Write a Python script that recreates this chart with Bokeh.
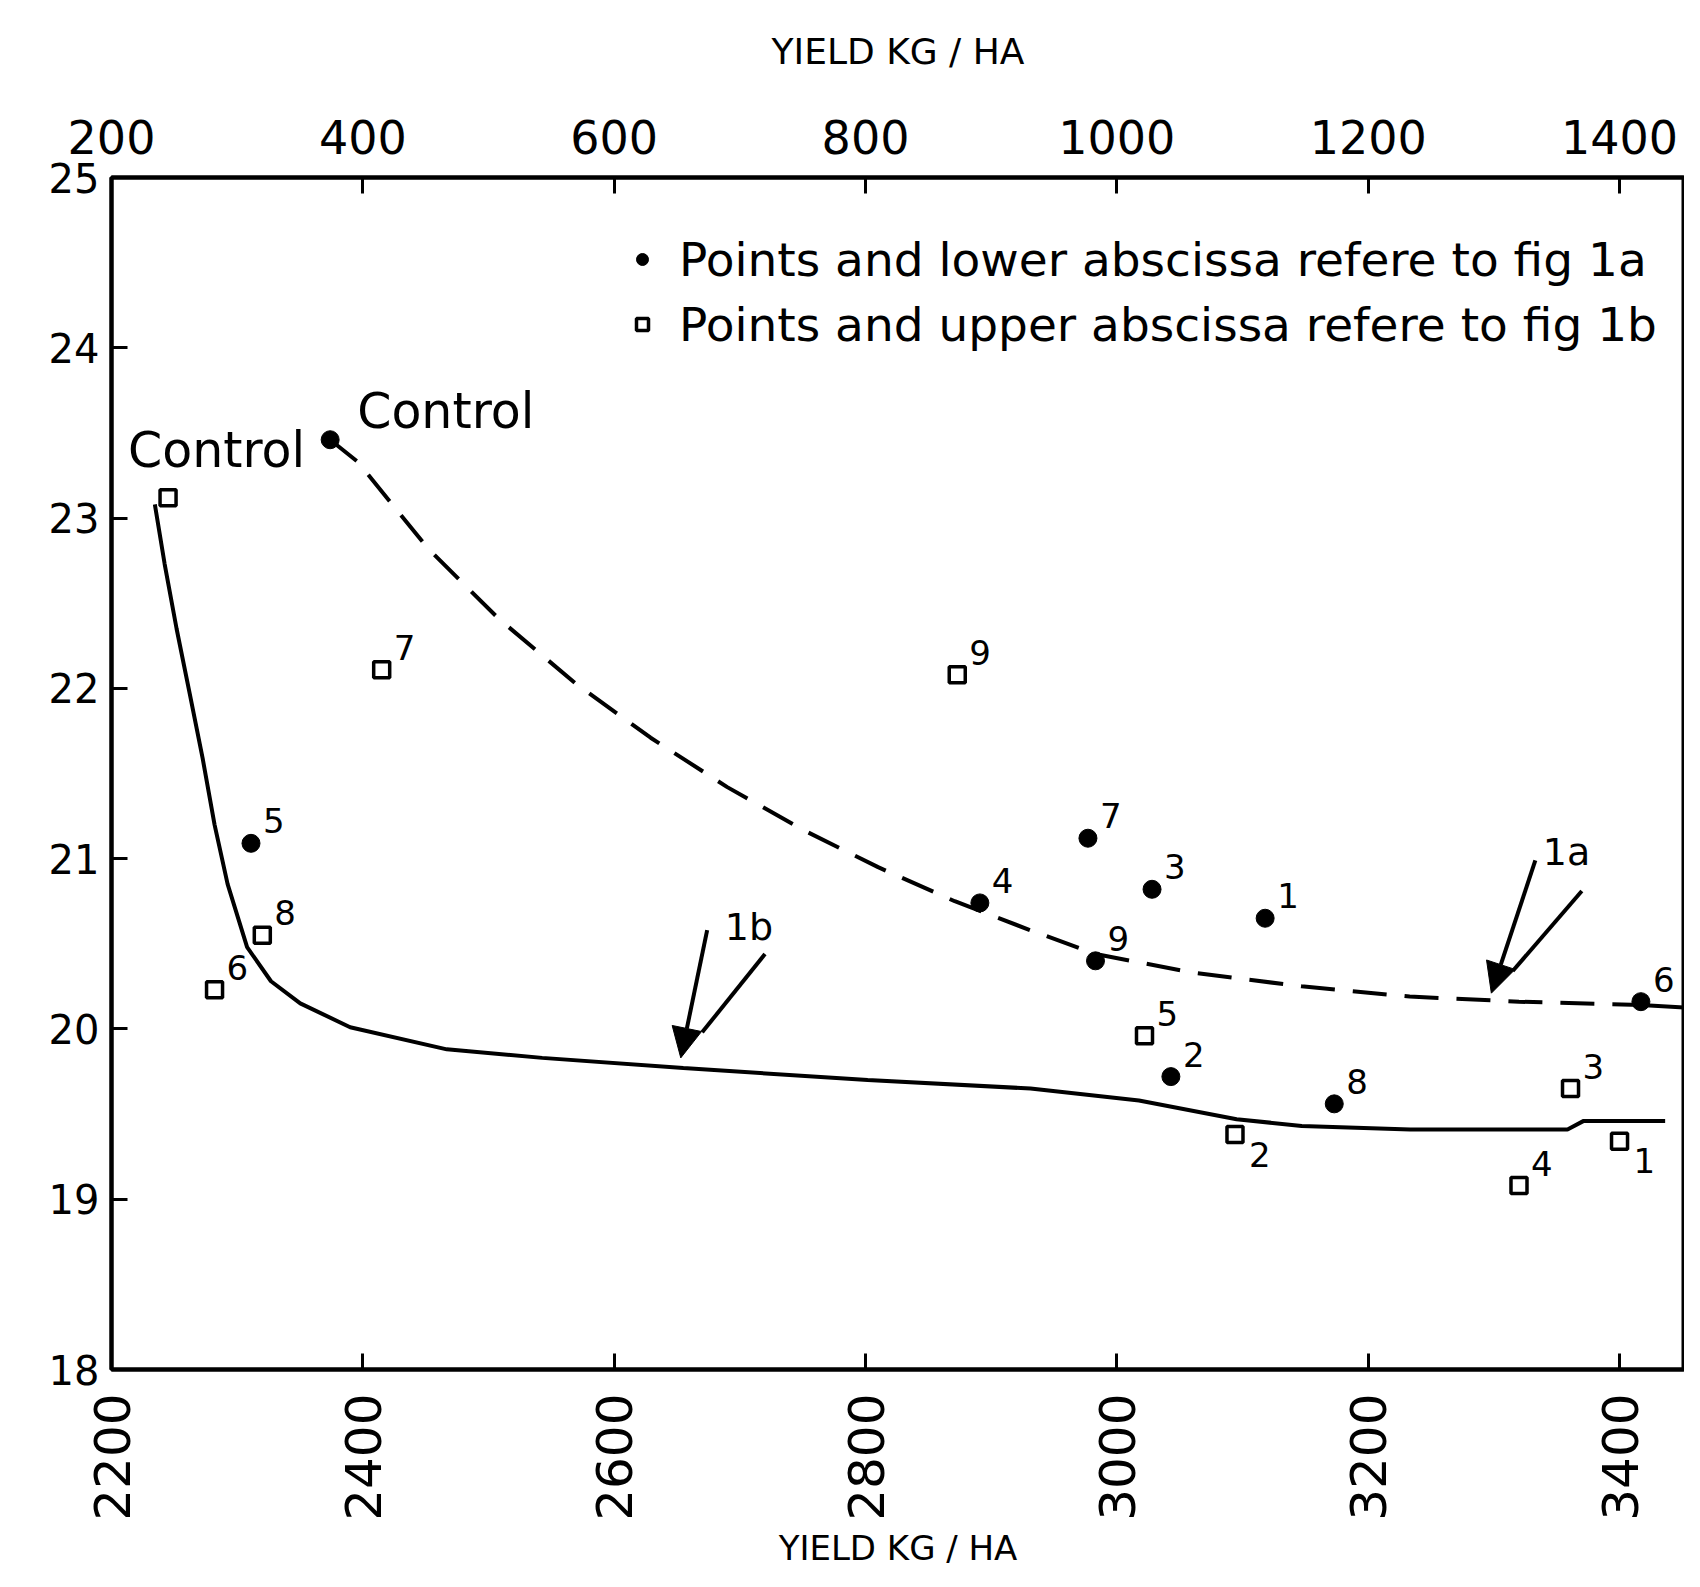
import math
from bokeh.plotting import figure
from bokeh.models import (Range1d, LinearAxis, FixedTicker, Legend, LegendItem,
                          Arrow, NormalHead)
from bokeh.embed import file_html
from bokeh.resources import INLINE
from bokeh.core.properties import value

# ---------------- data ----------------
lower_ticks = [2200, 2400, 2600, 2800, 3000, 3200, 3400]
upper_ticks = [200, 400, 600, 800, 1000, 1200, 1400]
y_ticks = [18, 19, 20, 21, 22, 23, 24, 25]
axis_title = "YIELD KG / HA"

# fig 1a points (lower abscissa)
a_labels = ["1", "2", "3", "4", "5", "6", "7", "8", "9"]
a_yield = [3118, 3043, 3028, 2891, 2311, 3417, 2977, 3173, 2983]
a_value = [20.65, 19.72, 20.82, 20.74, 21.09, 20.16, 21.12, 19.56, 20.40]
a_control_yield = [2374]
a_control_value = [23.46]

# fig 1b points (upper abscissa)
b_labels = ["1", "2", "3", "4", "5", "6", "7", "8", "9"]
b_yield = [1400, 1094, 1361, 1320, 1022, 282, 415, 320, 873]
b_value = [19.34, 19.38, 19.65, 19.08, 19.96, 20.23, 22.11, 20.55, 22.08]
b_control_yield = [245]
b_control_value = [23.12]
control_label = "Control"

# curve 1a (dashed, lower abscissa)
curve_a_x = [2374, 2396, 2452, 2508, 2569, 2629, 2690, 2750, 2810, 2871, 2931,
             2983, 3061, 3147, 3233, 3320, 3417]
curve_a_y = [23.46, 23.33, 22.82, 22.41, 22.03, 21.71, 21.42, 21.17, 20.95, 20.75,
             20.58, 20.44, 20.33, 20.25, 20.19, 20.16, 20.14]
curve_a_tail_x = [3417, 3465]
curve_a_tail_y = [20.14, 20.12]

# curve 1b (solid, upper abscissa)
curve_b_x = [234.5, 242.3, 251.8, 262.2, 272.5, 282.0, 292.4, 307.9, 326.9, 350.2,
             389.9, 466.8, 542.7, 655.0, 801.7, 931.3, 1017.6, 1095.3, 1147.1,
             1233.4, 1358.6, 1371.5, 1436.3]
curve_b_y = [23.08, 22.73, 22.35, 21.97, 21.59, 21.20, 20.85, 20.48, 20.28, 20.15,
             20.01, 19.88, 19.83, 19.77, 19.70, 19.65, 19.58, 19.47, 19.43,
             19.41, 19.41, 19.46, 19.46]

legend_labels = ["Points and lower abscissa refere to fig 1a",
                 "Points and upper abscissa refere to fig 1b"]

# curve annotations (lower abscissa)
arrow_names = ["1b", "1a"]
arrow_tip_x = [2653, 3298]
arrow_tip_y = [19.83, 20.21]
arrow_start_x = [2674, 3333]
arrow_start_y = [20.58, 20.99]
arrow_side_start_x = [2720, 3370]
arrow_side_start_y = [20.44, 20.81]
arrow_side_end_x = [2670, 3315]
arrow_side_end_y = [19.98, 20.34]
arrow_label_x = [2688, 3339]
arrow_label_y = [20.60, 21.04]

# ---------------- style ----------------
FONT = "DejaVu Sans"
# label placement: superscript (upper right) or subscript (lower right)
a_label_place = ["sup"] * 9
b_label_place = ["sub", "sub", "sup", "sup", "sup", "sup", "sup", "sup", "sup"]

p = figure(width=1684, height=1571,
           x_range=Range1d(2200, 3451.7), y_range=Range1d(18, 25),
           output_backend="svg", toolbar_location=None,
           min_border_left=111, min_border_right=0,
           min_border_top=177, min_border_bottom=202)
p.extra_x_ranges = {"upper": Range1d(200, 1451.7)}
p.grid.visible = False
p.outline_line_color = "black"
p.outline_line_width = 4
p.background_fill_color = "white"
p.border_fill_color = "white"


def style_axis(ax, size):
    ax.axis_line_width = 4
    ax.axis_line_color = "black"
    ax.major_tick_in = 16
    ax.major_tick_out = 0
    ax.major_tick_line_width = 3
    ax.minor_tick_line_color = None
    ax.major_label_text_font = FONT
    ax.major_label_text_font_size = size
    ax.major_label_text_color = "black"
    ax.axis_label_text_font = FONT
    ax.axis_label_text_font_style = "normal"
    ax.axis_label_text_font_size = "36px"
    ax.axis_label_text_color = "black"


xb = p.xaxis[0]
xb.ticker = FixedTicker(ticks=lower_ticks)
style_axis(xb, "50px")
xb.major_label_orientation = math.pi / 2
xb.major_label_standoff = 24
xb.axis_label = axis_title
xb.axis_label_standoff = 4
xb.axis_label_text_font_size = "34px"

yl = p.yaxis[0]
yl.ticker = FixedTicker(ticks=y_ticks)
style_axis(yl, "40px")
yl.major_label_standoff = 12

xt = LinearAxis(x_range_name="upper", ticker=FixedTicker(ticks=upper_ticks),
                axis_label=axis_title)
style_axis(xt, "46px")
xt.major_label_standoff = 24
xt.axis_label_standoff = 45
p.add_layout(xt, "above")

# curves
p.line(curve_a_x, curve_a_y, line_color="black", line_width=4, line_dash="34 18")
p.line(curve_a_tail_x, curve_a_tail_y, line_color="black", line_width=4)
p.line(curve_b_x, curve_b_y, line_color="black", line_width=4, x_range_name="upper")

# points
ra = p.scatter(a_yield + a_control_yield, a_value + a_control_value, marker="circle",
               size=18, fill_color="black", line_color="black")
rb = p.scatter(b_yield + b_control_yield, b_value + b_control_value, marker="square",
               size=16, fill_color="white", line_color="black", line_width=3.5,
               x_range_name="upper")

# point labels
def offsets(places):
    dx = [12 if s == "sup" else 14 for s in places]
    dy = [-10 if s == "sup" else 32 for s in places]
    return dx, dy

adx, ady = offsets(a_label_place)
p.text(a_yield, a_value, text=a_labels, x_offset=adx, y_offset=ady,
       text_font=value(FONT), text_font_size="34px", text_color="black",
       text_align="left", text_baseline="bottom")
bdx, bdy = offsets(b_label_place)
p.text(b_yield, b_value, text=b_labels, x_offset=bdx, y_offset=bdy,
       text_font=value(FONT), text_font_size="34px", text_color="black",
       text_align="left", text_baseline="bottom", x_range_name="upper")

p.text(a_control_yield, a_control_value, text=[control_label], x_offset=27, y_offset=0,
       text_font=value(FONT), text_font_size="49px", text_color="black",
       text_align="left", text_baseline="bottom")
p.text(b_control_yield, b_control_value, text=[control_label], x_offset=-40, y_offset=-19,
       text_font=value(FONT), text_font_size="49px", text_color="black",
       text_align="left", text_baseline="bottom", x_range_name="upper")

# curve annotation arrows
for i in range(len(arrow_names)):
    p.add_layout(Arrow(end=NormalHead(size=30, fill_color="black", line_color="black"),
                       x_start=arrow_start_x[i], y_start=arrow_start_y[i],
                       x_end=arrow_tip_x[i], y_end=arrow_tip_y[i],
                       line_width=4, line_color="black"))
    p.add_layout(Arrow(end=None,
                       x_start=arrow_side_start_x[i], y_start=arrow_side_start_y[i],
                       x_end=arrow_side_end_x[i], y_end=arrow_side_end_y[i],
                       line_width=4, line_color="black"))
p.text(arrow_label_x, arrow_label_y, text=arrow_names,
       text_font=value(FONT), text_font_size="38px", text_color="black",
       text_align="left", text_baseline="middle")

legend = Legend(items=[LegendItem(label=legend_labels[0], renderers=[ra]),
                       LegendItem(label=legend_labels[1], renderers=[rb])],
                location=(516, 1015), padding=0, margin=0, spacing=5,
                label_height=60, glyph_height=60, glyph_width=30, label_standoff=22,
                label_text_font=FONT, label_text_font_size="47px",
                label_text_color="black",
                border_line_alpha=0, background_fill_alpha=0)
p.add_layout(legend)

open("out.html", "w").write(file_html(p, INLINE))
